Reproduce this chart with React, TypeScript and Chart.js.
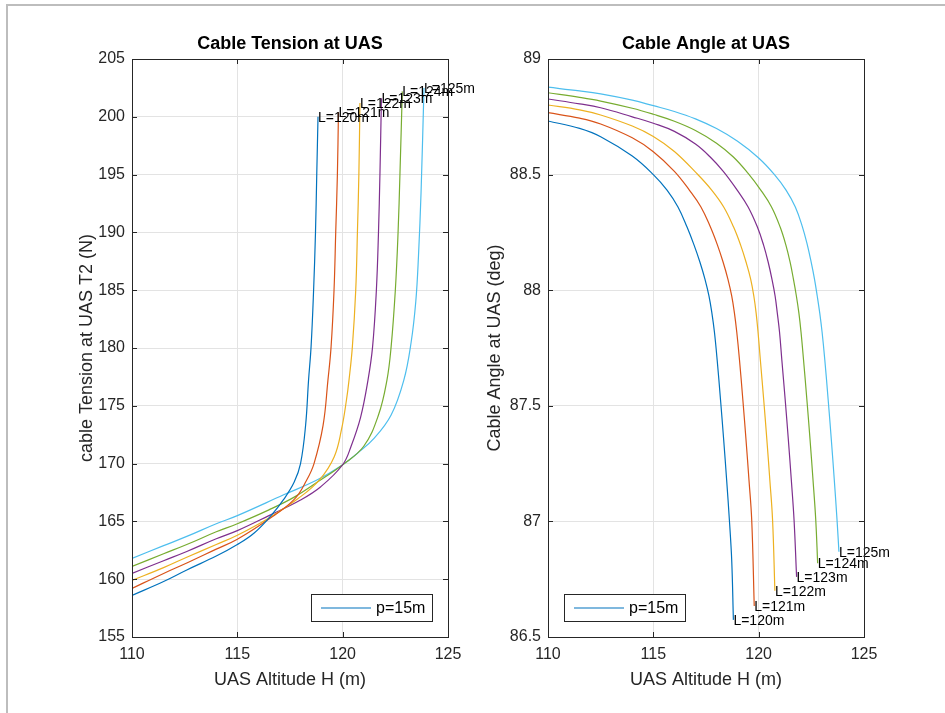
import React, { useEffect, useRef } from 'react';
import { Chart, registerables } from 'chart.js';

Chart.register(...registerables);

const FONT = '"Liberation Sans", Arial, Helvetica, sans-serif';
const LINE_COLORS = ['#0072BD', '#D95319', '#EDB120', '#7E2F8E', '#77AC30', '#4DBEEE'];
const cableLabels = ['L=120m', 'L=121m', 'L=122m', 'L=123m', 'L=124m', 'L=125m'];
const legendLabel = 'p=15m';

const altitudeTicks = [110, 115, 120, 125];
const tensionTicks = [155, 160, 165, 170, 175, 180, 185, 190, 195, 200, 205];
const angleTicks = [86.5, 87, 87.5, 88, 88.5, 89];

// Tension at the UAS, [altitude H (m), T2 (N)]
const tensionL120 = [[110, 158.6], [111.5, 159.8], [112.6, 160.8], [114, 162.0], [115, 163.0], [115.8, 164.0], [116.6, 165.5], [117.2, 166.9], [117.7, 168.4], [118.0, 170.0], [118.24, 173.3], [118.38, 177.2], [118.5, 180.1], [118.62, 185], [118.71, 190], [118.77, 195], [118.83, 200.0]];
const tensionL121 = [[110, 159.2], [111.5, 160.5], [112.6, 161.4], [114, 162.6], [115, 163.45], [116.5, 165.2], [117.7, 166.9], [118.3, 168.6], [118.64, 170.0], [119.07, 173.3], [119.3, 177.2], [119.45, 180.1], [119.59, 185], [119.67, 190], [119.75, 195], [119.8, 200.4]];
const tensionL122 = [[110, 159.9], [111.5, 161.0], [112.6, 161.9], [114, 163.0], [115, 163.8], [116.5, 165.3], [117.9, 167.0], [118.9, 168.6], [119.6, 170.6], [119.95, 173.0], [120.18, 175.5], [120.3, 177.2], [120.46, 180.1], [120.62, 185], [120.7, 190], [120.77, 195.1], [120.82, 201.2]];
const tensionL123 = [[110, 160.5], [111.5, 161.6], [112.6, 162.4], [114, 163.5], [115, 164.2], [116.5, 165.5], [118, 166.85], [118.96, 168.0], [120, 169.9], [120.4, 171.5], [120.85, 174.0], [121.2, 177.2], [121.42, 180.1], [121.6, 185], [121.7, 190], [121.77, 195.1], [121.84, 201.6]];
const tensionL124 = [[110, 161.1], [111.5, 162.2], [112.6, 163.0], [114, 164.1], [115, 164.8], [116.5, 166.0], [117.7, 167.1], [118.8, 168.4], [120, 169.9], [121, 171.5], [121.7, 174.2], [122.1, 177.2], [122.3, 180.1], [122.5, 185], [122.63, 190], [122.72, 195.1], [122.83, 202.2]];
const tensionL125 = [[110, 161.8], [111.5, 162.9], [112.6, 163.7], [114, 164.8], [115, 165.5], [117.2, 167.3], [118.8, 168.6], [120, 169.9], [120.7, 170.9], [121.5, 172.2], [122.3, 174.2], [122.9, 177.2], [123.25, 180.5], [123.47, 184], [123.6, 188], [123.72, 193.4], [123.86, 202.5]];

// Cable angle at the UAS, [altitude H (m), angle (deg)]
const angleL120 = [[110, 88.732], [111.5, 88.7], [112.5, 88.664], [114, 88.58], [115, 88.5], [115.65, 88.433], [116.17, 88.36], [116.6, 88.273], [116.93, 88.196], [117.21, 88.122], [117.45, 88.048], [117.64, 87.975], [117.78, 87.901], [117.9, 87.819], [118.03, 87.698], [118.19, 87.525], [118.34, 87.352], [118.48, 87.179], [118.61, 87.006], [118.72, 86.833], [118.8, 86.574]];
const angleL121 = [[110, 88.768], [111.5, 88.744], [112.5, 88.719], [114, 88.659], [115, 88.599], [116.0, 88.514], [116.71, 88.433], [117.26, 88.36], [117.71, 88.273], [118.04, 88.196], [118.31, 88.122], [118.54, 88.048], [118.72, 87.975], [118.85, 87.901], [118.96, 87.819], [119.09, 87.698], [119.25, 87.525], [119.4, 87.352], [119.54, 87.179], [119.67, 87.006], [119.79, 86.634]];
const angleL122 = [[110, 88.801], [111.5, 88.78], [112.5, 88.758], [114, 88.71], [115, 88.665], [116, 88.6], [117.06, 88.505], [117.77, 88.433], [118.34, 88.36], [118.81, 88.273], [119.14, 88.196], [119.4, 88.122], [119.62, 88.048], [119.77, 87.975], [119.88, 87.901], [119.97, 87.819], [120.08, 87.698], [120.24, 87.525], [120.39, 87.352], [120.53, 87.179], [120.66, 87.006], [120.77, 86.7]];
const angleL123 = [[110, 88.827], [111.5, 88.806], [112.5, 88.789], [114, 88.75], [115, 88.722], [116, 88.687], [117, 88.632], [117.7, 88.576], [118.32, 88.514], [118.98, 88.433], [119.5, 88.36], [119.94, 88.273], [120.23, 88.196], [120.45, 88.122], [120.63, 88.048], [120.78, 87.975], [120.885, 87.901], [120.99, 87.819], [121.1, 87.698], [121.26, 87.525], [121.41, 87.352], [121.55, 87.179], [121.68, 87.006], [121.8, 86.76]];
const angleL124 = [[110, 88.854], [111.5, 88.834], [112.5, 88.818], [114, 88.787], [115, 88.761], [116, 88.731], [117, 88.691], [118, 88.636], [118.8, 88.576], [119.5, 88.505], [120.1, 88.433], [120.61, 88.36], [121.02, 88.273], [121.29, 88.196], [121.49, 88.122], [121.65, 88.048], [121.79, 87.975], [121.91, 87.901], [122.01, 87.819], [122.13, 87.698], [122.29, 87.525], [122.44, 87.352], [122.58, 87.179], [122.71, 87.006], [122.8, 86.819]];
const angleL125 = [[110, 88.878], [111.5, 88.862], [112.5, 88.849], [114, 88.822], [115, 88.798], [116, 88.773], [117, 88.741], [118, 88.699], [119, 88.644], [120, 88.572], [120.75, 88.5], [121.3, 88.433], [121.74, 88.36], [122.08, 88.273], [122.31, 88.196], [122.49, 88.122], [122.65, 88.048], [122.78, 87.975], [122.9, 87.901], [123.01, 87.819], [123.14, 87.698], [123.3, 87.525], [123.45, 87.352], [123.59, 87.179], [123.72, 87.006], [123.81, 86.869]];

const tensionSeries = [tensionL120, tensionL121, tensionL122, tensionL123, tensionL124, tensionL125];
const angleSeries = [angleL120, angleL121, angleL122, angleL123, angleL124, angleL125];

// Box, inward ticks, curve end labels and the legend box, drawn like a MATLAB axes
const axesDecor = {
  id: 'axesDecor',
  afterDatasetsDraw(chart: any, _args: any, opts: any) {
    const { ctx, chartArea } = chart;
    ctx.save();
    ctx.font = `14px ${FONT}`;
    ctx.fillStyle = '#000';
    ctx.textAlign = 'left';
    ctx.textBaseline = 'middle';
    chart.data.datasets.forEach((_ds: any, i: number) => {
      const meta = chart.getDatasetMeta(i);
      const last = meta.data[meta.data.length - 1];
      ctx.fillText(cableLabels[i], last.x, last.y + 1);
    });
    // legend
    const w = 121, h = 27;
    const lx = opts.legendSide === 'left' ? chartArea.left + 16 : chartArea.right - 16 - w;
    const ly = chartArea.bottom - 16 - h;
    ctx.fillStyle = '#fff';
    ctx.fillRect(lx, ly, w, h);
    ctx.strokeStyle = '#262626';
    ctx.lineWidth = 1;
    ctx.strokeRect(Math.round(lx) + 0.5, Math.round(ly) + 0.5, w, h);
    ctx.strokeStyle = LINE_COLORS[0];
    ctx.lineWidth = 1.2;
    ctx.beginPath();
    ctx.moveTo(lx + 10, ly + h / 2 + 0.5);
    ctx.lineTo(lx + 60, ly + h / 2 + 0.5);
    ctx.stroke();
    ctx.fillStyle = '#000';
    ctx.font = `16px ${FONT}`;
    ctx.fillText(legendLabel, lx + 65, ly + h / 2 + 1);
    ctx.restore();
  },
  afterDraw(chart: any) {
    const { ctx, chartArea } = chart;
    const { left, right, top, bottom } = chartArea;
    const xs = chart.scales.x;
    const ys = chart.scales.y;
    ctx.save();
    ctx.strokeStyle = '#262626';
    ctx.lineWidth = 1;
    ctx.beginPath();
    xs.ticks.forEach((t: any) => {
      const px = Math.round(xs.getPixelForValue(t.value)) + 0.5;
      ctx.moveTo(px, bottom); ctx.lineTo(px, bottom - 5);
      ctx.moveTo(px, top); ctx.lineTo(px, top + 5);
    });
    ys.ticks.forEach((t: any) => {
      const py = Math.round(ys.getPixelForValue(t.value)) + 0.5;
      ctx.moveTo(left, py); ctx.lineTo(left + 5, py);
      ctx.moveTo(right, py); ctx.lineTo(right - 5, py);
    });
    ctx.stroke();
    ctx.strokeRect(Math.round(left) + 0.5, Math.round(top) + 0.5, Math.round(right - left), Math.round(bottom - top));
    ctx.restore();
  },
};

function makeConfig(p: {
  series: number[][][];
  title: string;
  yTitle: string;
  yTicks: number[];
  yMin: number;
  yMax: number;
  padLeft: number;
  padRight: number;
  yWidth: number;
  yTitlePad: number;
  legendSide: string;
}) {
  return {
    type: 'line',
    data: {
      datasets: p.series.map((pts, i) => ({
        label: cableLabels[i],
        data: pts.map(([x, y]) => ({ x, y })),
        borderColor: LINE_COLORS[i],
        backgroundColor: LINE_COLORS[i],
        borderWidth: 1.2,
        pointRadius: 0,
        fill: false,
        tension: 0.4,
      })),
    },
    options: {
      animation: false,
      responsive: false,
      devicePixelRatio: 1,
      layout: { padding: { left: p.padLeft, right: p.padRight, top: 0, bottom: 0 } },
      plugins: {
        legend: { display: false },
        tooltip: { enabled: false },
        title: {
          display: true,
          fullSize: false,
          text: p.title,
          color: '#000',
          font: { family: FONT, size: 18, weight: 'bold' },
          padding: { top: 33.2, bottom: 4.2 },
        },
        axesDecor: { legendSide: p.legendSide },
      },
      scales: {
        x: {
          type: 'linear',
          min: 110,
          max: 125,
          afterBuildTicks: (s: any) => { s.ticks = altitudeTicks.map((v) => ({ value: v })); },
          afterFit: (s: any) => { s.height = 76; },
          grid: { color: '#e3e3e3', drawTicks: false },
          border: { display: false },
          ticks: {
            color: '#262626',
            font: { family: FONT, size: 16 },
            padding: 8.4,
            autoSkip: false,
            maxRotation: 0,
            callback: (v: any) => String(v),
          },
          title: {
            display: true,
            text: 'UAS Altitude H (m)',
            color: '#262626',
            font: { family: FONT, size: 18 },
            padding: { top: 0, bottom: 22.2 },
          },
        },
        y: {
          type: 'linear',
          min: p.yMin,
          max: p.yMax,
          afterBuildTicks: (s: any) => { s.ticks = p.yTicks.map((v) => ({ value: v })); },
          afterFit: (s: any) => { s.width = p.yWidth; },
          grid: { color: '#e3e3e3', drawTicks: false },
          border: { display: false },
          ticks: {
            color: '#262626',
            font: { family: FONT, size: 16 },
            padding: 7,
            autoSkip: false,
            callback: (v: any) => String(v),
          },
          title: {
            display: true,
            text: p.yTitle,
            color: '#262626',
            font: { family: FONT, size: 18 },
            padding: { top: p.yTitlePad, bottom: 0 },
          },
        },
      },
    },
    plugins: [axesDecor],
  };
}

function Panel(props: { left: number; width: number; config: any }) {
  const ref = useRef<HTMLCanvasElement | null>(null);
  useEffect(() => {
    if (!ref.current) return;
    const chart = new Chart(ref.current, props.config);
    return () => chart.destroy();
  }, []);
  return (
    <canvas
      ref={ref}
      width={props.width}
      height={713}
      style={{ position: 'absolute', left: props.left, top: 0, width: props.width, height: 713 }}
    />
  );
}

export default function App() {
  const tensionConfig = makeConfig({
    series: tensionSeries,
    title: 'Cable Tension at UAS',
    yTitle: 'cable Tension at UAS T2 (N)',
    yTicks: tensionTicks,
    yMin: 155,
    yMax: 205,
    padLeft: 70,
    padRight: 52,
    yWidth: 62,
    yTitlePad: 6.2,
    legendSide: 'right',
  });
  const angleConfig = makeConfig({
    series: angleSeries,
    title: 'Cable Angle at UAS',
    yTitle: 'Cable Angle at UAS (deg)',
    yTicks: angleTicks,
    yMin: 86.5,
    yMax: 89,
    padLeft: 0,
    padRight: 81,
    yWidth: 76,
    yTitlePad: 12.2,
    legendSide: 'left',
  });
  return (
    <div style={{ position: 'absolute', left: 0, top: 0, width: 945, height: 713, background: '#fff', overflow: 'hidden' }}>
      <div
        style={{
          position: 'absolute',
          left: 6,
          top: 4,
          width: 960,
          height: 720,
          borderTop: '2px solid #bdbdbd',
          borderLeft: '2px solid #bdbdbd',
        }}
      />
      <Panel left={0} width={500} config={tensionConfig} />
      <Panel left={472} width={473} config={angleConfig} />
    </div>
  );
}
